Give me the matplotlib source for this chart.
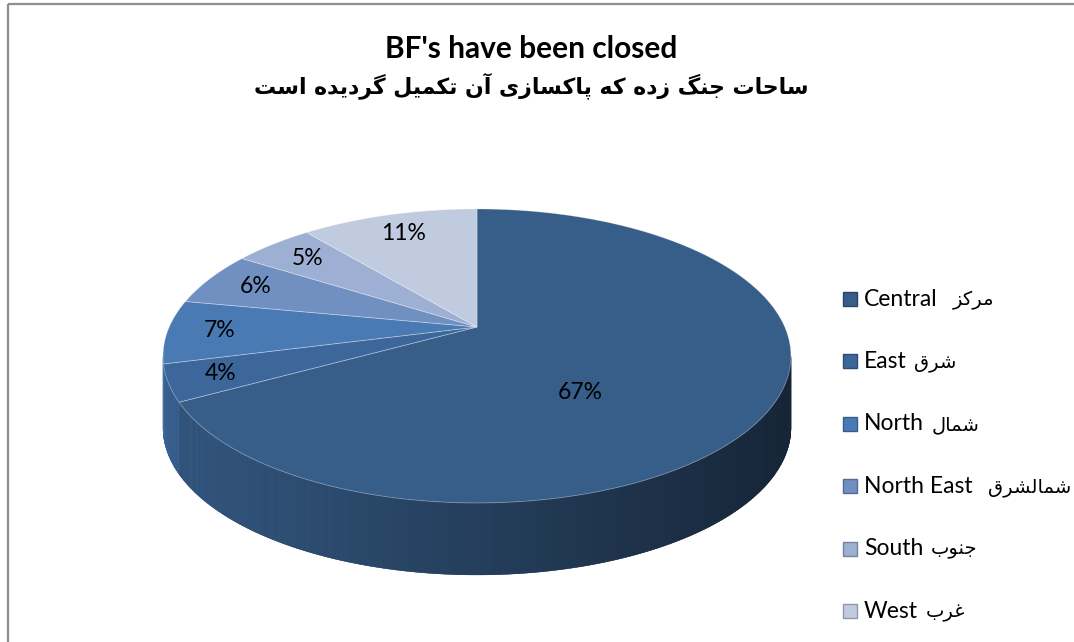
import numpy as np
import matplotlib
matplotlib.use("Agg")
import matplotlib.pyplot as plt
from matplotlib.patches import Polygon, Rectangle
from matplotlib.collections import PolyCollection

# ---------------- data ----------------
title_en = "BF's have been closed"
title_fa = "ساحات جنگ زده که پاکسازی آن تکمیل گردیده است"
categories_en = ["Central", "East", "North", "North East", "South", "West"]
categories_fa = ["مرکز", "شرق", "شمال", "شمالشرق", "جنوب", "غرب"]
values = [67, 4, 7, 6, 5, 11]
colors = ["#375D89", "#3D679B", "#4A7AB4", "#7190C2", "#9DAFD3", "#C0CBE0"]
label_gaps = [2, 1, 1, 2, 1, 1]   # spaces between English and Persian in legend

# ------------- simple Persian shaping (presentation forms) -------------
FORMS = {
    '\u0627': ('\uFE8D', '\uFE8E', None, None),
    '\u0622': ('\uFE81', '\uFE82', None, None),
    '\u0628': ('\uFE8F', '\uFE90', '\uFE91', '\uFE92'),
    '\u067E': ('\uFB56', '\uFB57', '\uFB58', '\uFB59'),
    '\u062A': ('\uFE95', '\uFE96', '\uFE97', '\uFE98'),
    '\u062C': ('\uFE9D', '\uFE9E', '\uFE9F', '\uFEA0'),
    '\u062D': ('\uFEA1', '\uFEA2', '\uFEA3', '\uFEA4'),
    '\u062F': ('\uFEA9', '\uFEAA', None, None),
    '\u0631': ('\uFEAD', '\uFEAE', None, None),
    '\u0632': ('\uFEAF', '\uFEB0', None, None),
    '\u0633': ('\uFEB1', '\uFEB2', '\uFEB3', '\uFEB4'),
    '\u0634': ('\uFEB5', '\uFEB6', '\uFEB7', '\uFEB8'),
    '\u063A': ('\uFECD', '\uFECE', '\uFECF', '\uFED0'),
    '\u0642': ('\uFED5', '\uFED6', '\uFED7', '\uFED8'),
    '\u06A9': ('\uFB8E', '\uFB8F', '\uFB90', '\uFB91'),
    '\u06AF': ('\uFB92', '\uFB93', '\uFB94', '\uFB95'),
    '\u0644': ('\uFEDD', '\uFEDE', '\uFEDF', '\uFEE0'),
    '\u0645': ('\uFEE1', '\uFEE2', '\uFEE3', '\uFEE4'),
    '\u0646': ('\uFEE5', '\uFEE6', '\uFEE7', '\uFEE8'),
    '\u0647': ('\uFEE9', '\uFEEA', '\uFEEB', '\uFEEC'),
    '\u0648': ('\uFEED', '\uFEEE', None, None),
    '\u06CC': ('\uFBFC', '\uFBFD', '\uFBFE', '\uFBFF'),
}


def shape_fa(text):
    out = []
    n = len(text)
    for i, c in enumerate(text):
        if c not in FORMS:
            out.append(c)
            continue
        prev = text[i - 1] if i > 0 else None
        nxt = text[i + 1] if i + 1 < n else None
        jp = prev in FORMS and FORMS[prev][2] is not None
        jn = nxt in FORMS and FORMS[c][2] is not None
        iso, fin, ini, med = FORMS[c]
        if jp and jn:
            out.append(med)
        elif jp:
            out.append(fin)
        elif jn:
            out.append(ini)
        else:
            out.append(iso)
    return ''.join(reversed(out))


# ---------------- figure ----------------
W, H = 1074, 642
fig = plt.figure(figsize=(W / 100, H / 100), dpi=100)
ax = fig.add_axes([0, 0, 1, 1])
ax.set_xlim(0, W)
ax.set_ylim(H, 0)
ax.axis('off')
renderer = fig.canvas.get_renderer()

# chart border
ax.add_patch(Rectangle((7.5, 3.5), 1200, 800, fill=False, edgecolor='#8E8E8E', lw=1.6))

# perspective pie geometry (screen pixels)
CX, CY = 477.0, 327.0
A, B, K = 307.8, 141.3, 0.197
DEPTH = 72.0


def proj(theta, r=1.0, dz=0.0):
    u = r * np.sin(theta)
    v = r * np.cos(theta)
    w = 1 + K * v
    return CX + A * u / w, CY - B * v / w + dz


def rgb(h):
    h = h.lstrip('#')
    return np.array([int(h[i:i + 2], 16) for i in (0, 2, 4)]) / 255.0


total = float(sum(values))
bounds = np.concatenate([[0], np.cumsum(values)]) / total * 2 * np.pi
front_lo, front_hi = np.arccos(-K), 2 * np.pi - np.arccos(-K)

x_left, x_right = CX - A / np.sqrt(1 - K ** 2), CX + A / np.sqrt(1 - K ** 2)


def shade(x):
    t = np.clip((x - x_left) / (x_right - x_left), 0, 1)
    return 0.95 - 0.55 * t

# base side silhouette (hides seams between strips)
tf = np.linspace(front_lo, front_hi, 400)
fx, fy = proj(tf)
side_outline = np.column_stack([np.concatenate([fx, fx[::-1]]),
                                np.concatenate([fy, fy[::-1] + DEPTH])])
ax.add_patch(Polygon(side_outline, closed=True,
                     facecolor=np.clip(rgb(colors[0]) * 0.6, 0, 1), edgecolor='none'))

# side strips with horizontal shading
polys, fcols = [], []
for i in range(len(values)):
    a0, a1 = max(bounds[i], front_lo), min(bounds[i + 1], front_hi)
    if a1 <= a0:
        continue
    ts = np.linspace(a0, a1, max(3, int((a1 - a0) / 0.008)))
    base = rgb(colors[i])
    for t0, t1 in zip(ts[:-1], ts[1:]):
        x0, y0 = proj(t0)
        x1, y1 = proj(t1)
        quad = [(x0, y0), (x1, y1), (x1, y1 + DEPTH), (x0, y0 + DEPTH)]
        polys.append(quad)
        fcols.append(np.clip(base * shade((x0 + x1) / 2), 0, 1))
pc = PolyCollection(polys, facecolors=fcols, edgecolors=fcols, linewidths=0.25, antialiased=True)
ax.add_collection(pc)

# tops
label_pos = []
for i in range(len(values)):
    ts = np.linspace(bounds[i], bounds[i + 1], max(4, int((bounds[i + 1] - bounds[i]) / 0.01)))
    xs, ys = proj(ts)
    pts = np.column_stack([np.concatenate([[CX], xs]), np.concatenate([[CY], ys])])
    ax.add_patch(Polygon(pts, closed=True, facecolor=colors[i], edgecolor=(1, 1, 1, 0.35), lw=0.6))
    frac = values[i] / total
    mx, my = proj((bounds[i] + bounds[i + 1]) / 2)
    if frac > 0.5:
        x, y = pts[:, 0], pts[:, 1]
        xn, yn = np.roll(x, -1), np.roll(y, -1)
        cr = x * yn - xn * y
        ar = cr.sum() / 2
        gx = ((x + xn) * cr).sum() / (6 * ar)
        gy = ((y + yn) * cr).sum() / (6 * ar)
        lx, ly = gx + 0.2 * (mx - gx), gy + 0.2 * (my - gy) + 10
    else:
        lx, ly = CX + 0.83 * (mx - CX), CY + 0.83 * (my - CY)
    label_pos.append((lx, ly))

for (lx, ly), v in zip(label_pos, values):
    ax.text(lx, ly, f"{v}%", ha='center', va='center', fontsize=16.5,
            family=['Lato', 'DejaVu Sans'], color='black')

# titles
ax.text(531, 49, title_en, ha='center', va='center', fontsize=21.5, fontweight='bold',
        family=['Lato', 'DejaVu Sans'])
ax.text(531, 86, shape_fa(title_fa), ha='center', va='center', fontsize=15.8, fontweight='bold',
        family=['DejaVu Sans'])

# legend
for i, (en, fa) in enumerate(zip(categories_en, categories_fa)):
    yy = 299 + i * 62.4
    base = rgb(colors[i])
    ax.add_patch(Rectangle((843, yy - 7), 14, 14, facecolor=colors[i],
                           edgecolor=np.clip(base * 0.75, 0, 1), lw=1.0))
    t_en = ax.text(864, yy, en, ha='left', va='center', fontsize=16.5,
                   family=['Lato', 'DejaVu Sans'])
    bb = t_en.get_window_extent(renderer=renderer)
    gap = 7.5 * label_gaps[i]
    ax.text(bb.x1 + gap, yy + 1, shape_fa(fa), ha='left', va='center', fontsize=14,
            family=['DejaVu Sans'])

fig.savefig('out.png', dpi=100)
